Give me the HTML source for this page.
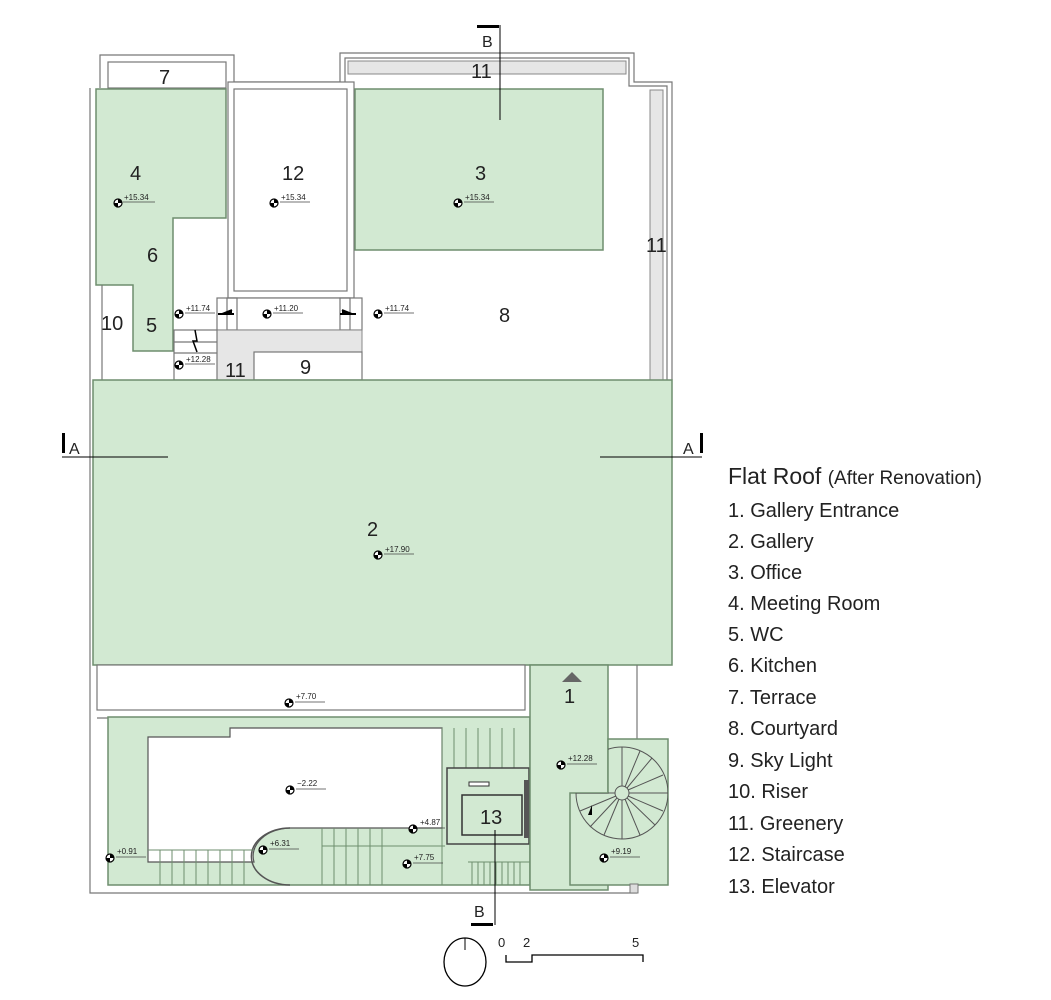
<!DOCTYPE html>
<html><head><meta charset="utf-8"><style>
html,body{margin:0;padding:0;background:#fff;}
svg{display:block;}
text{font-family:"Liberation Sans Narrow","Liberation Sans",sans-serif;fill:#222;}
.n{font-size:20px;}
.e{font-size:8px;}
.g{fill:#d2e9d2;stroke:#6e8e6e;stroke-width:1.5;}
.w{fill:#fff;stroke:#777;stroke-width:1.2;}
.l{fill:none;stroke:#777;stroke-width:1.2;}
.h{fill:#e6e6e6;stroke:#888;stroke-width:1;}
.s{stroke:#6e8e6e;stroke-width:1;}
</style></head><body>
<svg width="1051" height="1000" viewBox="0 0 1051 1000" xmlns="http://www.w3.org/2000/svg">
<defs>
<g id="m"><circle r="4" fill="#fff" stroke="#000" stroke-width="1.2"/><path d="M0,-4A4,4 0 0 1 4,0L0,0Z M0,4A4,4 0 0 1 -4,0L0,0Z" fill="#000"/></g>
<clipPath id="sp"><path d="M608,739 L668,739 L668,885 L574,885 L574,793 L608,793 Z"/></clipPath>
</defs>
<path class="l" d="M90,88 L90,893 L637,893"/>
<path class="l" d="M100,88 L100,55 L234,55 L234,82 L340,82 L340,53 L634,53 L634,82 L672,82 L672,380"/>
<path class="l" d="M345,82 L345,58 L629,58 L629,86 L667,86 L667,380"/>
<rect class="w" x="108" y="62" width="118" height="26"/>
<rect class="h" x="348" y="61" width="278" height="13"/>
<rect class="h" x="650" y="90" width="13" height="290"/>
<path class="g" d="M96,89 L226,89 L226,218 L173,218 L173,351 L133,351 L133,285 L96,285 Z"/>
<line class="l" x1="102" y1="285" x2="102" y2="380"/>
<rect class="w" x="228" y="82" width="126" height="216"/>
<rect class="w" x="234" y="89" width="113" height="202"/>
<rect class="g" x="355" y="89" width="248" height="161"/>
<rect class="w" x="217" y="298" width="145" height="32"/>
<rect class="l" x="227" y="298" width="10" height="32"/>
<rect class="l" x="340" y="298" width="10" height="32"/>
<rect class="h" x="217" y="330" width="145" height="50"/>
<rect class="w" x="254" y="352" width="108" height="28"/>
<rect class="l" x="174" y="330" width="43" height="50"/>
<line class="l" x1="174" y1="342" x2="217" y2="342"/>
<line class="l" x1="174" y1="353" x2="217" y2="353"/>
<path d="M195,330 L197,341 L193,341 L197,352" fill="none" stroke="#000" stroke-width="1.5"/>
<path d="M218,314 L234,314 M232,310 L222,314 L232,314" stroke="#000" stroke-width="2" fill="#000"/>
<path d="M340,314 L356,314 M342,310 L352,314 L342,314" stroke="#000" stroke-width="2" fill="#000"/>
<rect class="g" x="93" y="380" width="579" height="285"/>
<rect class="w" x="97" y="665" width="428" height="45"/>
<line class="l" x1="97" y1="718" x2="530" y2="718"/>
<path class="g" d="M108,717 L530,717 L530,885 L108,885 Z"/>
<path d="M148,737 L230,737 L230,728 L442,728 L442,828 L290,828 A38,28 0 0 0 254,862 L148,862 Z" fill="#fff" stroke="#555" stroke-width="1.2"/>
<path d="M290,828 A38,28 0 0 0 290,885" fill="none" stroke="#555" stroke-width="1.5"/>
<g class="s">
<line x1="148" y1="850" x2="254" y2="850"/>
<line x1="160" y1="850" x2="160" y2="885"/><line x1="172" y1="850" x2="172" y2="885"/><line x1="184" y1="850" x2="184" y2="885"/><line x1="196" y1="850" x2="196" y2="885"/><line x1="208" y1="850" x2="208" y2="885"/><line x1="220" y1="850" x2="220" y2="885"/><line x1="232" y1="850" x2="232" y2="885"/><line x1="244" y1="850" x2="244" y2="885"/>
<line x1="322" y1="828" x2="322" y2="885"/><line x1="322" y1="846" x2="445" y2="846"/>
<line x1="334" y1="828" x2="334" y2="885"/><line x1="346" y1="828" x2="346" y2="885"/><line x1="358" y1="828" x2="358" y2="885"/><line x1="370" y1="828" x2="370" y2="885"/><line x1="382" y1="828" x2="382" y2="885"/>
<line x1="442" y1="728" x2="442" y2="885"/>
<line x1="454" y1="728" x2="454" y2="768"/><line x1="466" y1="728" x2="466" y2="768"/><line x1="478" y1="728" x2="478" y2="768"/><line x1="490" y1="728" x2="490" y2="768"/><line x1="502" y1="728" x2="502" y2="768"/><line x1="514" y1="728" x2="514" y2="768"/>
<line x1="468" y1="862" x2="530" y2="862"/>
<line x1="472" y1="862" x2="472" y2="885"/><line x1="478" y1="862" x2="478" y2="885"/><line x1="484" y1="862" x2="484" y2="885"/><line x1="490" y1="862" x2="490" y2="885"/><line x1="496" y1="862" x2="496" y2="885"/><line x1="502" y1="862" x2="502" y2="885"/><line x1="508" y1="862" x2="508" y2="885"/><line x1="514" y1="862" x2="514" y2="885"/><line x1="520" y1="862" x2="520" y2="885"/>
</g>
<rect x="447" y="768" width="82" height="76" fill="#d2e9d2" stroke="#444" stroke-width="1.5"/>
<rect x="462" y="795" width="60" height="40" fill="#d2e9d2" stroke="#333" stroke-width="1.5"/>
<rect x="469" y="782" width="20" height="4" fill="#fff" stroke="#333"/>
<rect x="524" y="780" width="5" height="58" fill="#555"/>
<rect class="g" x="530" y="665" width="78" height="225"/>
<line class="l" x1="637" y1="665" x2="637" y2="739"/>
<path d="M562,682 L572,672 L582,682 Z" fill="#666"/>
<!-- spiral -->
<path class="g" d="M608,739 L668,739 L668,885 L570,885 L570,793 L608,793 Z"/>
<g fill="none" stroke="#555" stroke-width="1" clip-path="url(#sp)">
<circle cx="622" cy="793" r="46"/>
<circle cx="622" cy="793" r="7"/>
<path d="M622,786 L622,747 M627,788 L652,758 M629,793 L668,793 M627,798 L655,825 M622,800 L622,839 M617,798 L590,827 M615,793 L576,793 M625,787 L640,751 M628,790 L663,775 M628,796 L663,811 M625,799 L640,835 M619,799 L604,835 M616,796 L580,811"/>
</g>
<path d="M588,815 L592,805 L592,815 Z" fill="#000"/>
<rect x="630" y="884" width="8" height="9" fill="#ddd" stroke="#777"/>
<rect x="62" y="433" width="3" height="20" fill="#000"/>
<line x1="62" y1="457" x2="168" y2="457" stroke="#000"/>
<text x="69" y="454" style="font-size:16px">A</text>
<rect x="700" y="433" width="3" height="20" fill="#000"/>
<line x1="600" y1="457" x2="702" y2="457" stroke="#000"/>
<text x="683" y="454" style="font-size:16px">A</text>
<rect x="477" y="25" width="22" height="3" fill="#000"/>
<line x1="500" y1="25" x2="500" y2="120" stroke="#000"/>
<text x="482" y="47" style="font-size:16px">B</text>
<rect x="471" y="923" width="22" height="3" fill="#000"/>
<line x1="495" y1="830" x2="495" y2="925" stroke="#000"/>
<text x="474" y="917" style="font-size:16px">B</text>
<ellipse cx="465" cy="962" rx="21" ry="24" fill="none" stroke="#000" stroke-width="1.3"/>
<line x1="465" y1="938" x2="465" y2="950" stroke="#000"/>
<path d="M506,955 L506,962 L532,962 L532,955 L643,955 L643,962" fill="none" stroke="#000" stroke-width="1.3"/>
<text x="498" y="947" style="font-size:13px">0</text>
<text x="523" y="947" style="font-size:13px">2</text>
<text x="632" y="947" style="font-size:13px">5</text>
<g class="n">
<text x="159" y="84">7</text>
<text x="130" y="180">4</text>
<text x="147" y="262">6</text>
<text x="146" y="332">5</text>
<text x="101" y="330">10</text>
<text x="282" y="180">12</text>
<text x="475" y="180">3</text>
<text x="471" y="78">11</text>
<text x="646" y="252">11</text>
<text x="499" y="322">8</text>
<text x="225" y="377">11</text>
<text x="300" y="374">9</text>
<text x="367" y="536">2</text>
<text x="564" y="703">1</text>
<text x="480" y="824">13</text>
</g>
<g class="e">
<use href="#m" x="118" y="203"/><text x="124" y="200">+15.34</text><line x1="123" y1="202" x2="155" y2="202" stroke="#444" stroke-width=".7"/>
<use href="#m" x="274" y="203"/><text x="281" y="200">+15.34</text><line x1="280" y1="202" x2="310" y2="202" stroke="#444" stroke-width=".7"/>
<use href="#m" x="458" y="203"/><text x="465" y="200">+15.34</text><line x1="464" y1="202" x2="494" y2="202" stroke="#444" stroke-width=".7"/>
<use href="#m" x="179" y="314"/><text x="186" y="311">+11.74</text><line x1="185" y1="313" x2="215" y2="313" stroke="#444" stroke-width=".7"/>
<use href="#m" x="267" y="314"/><text x="274" y="311">+11.20</text><line x1="273" y1="313" x2="303" y2="313" stroke="#444" stroke-width=".7"/>
<use href="#m" x="378" y="314"/><text x="385" y="311">+11.74</text><line x1="384" y1="313" x2="414" y2="313" stroke="#444" stroke-width=".7"/>
<use href="#m" x="179" y="365"/><text x="186" y="362">+12.28</text><line x1="185" y1="364" x2="215" y2="364" stroke="#444" stroke-width=".7"/>
<use href="#m" x="378" y="555"/><text x="385" y="552">+17.90</text><line x1="384" y1="554" x2="414" y2="554" stroke="#444" stroke-width=".7"/>
<use href="#m" x="289" y="703"/><text x="296" y="699">+7.70</text><line x1="295" y1="702" x2="325" y2="702" stroke="#444" stroke-width=".7"/>
<use href="#m" x="290" y="790"/><text x="297" y="786">−2.22</text><line x1="296" y1="789" x2="326" y2="789" stroke="#444" stroke-width=".7"/>
<use href="#m" x="561" y="765"/><text x="568" y="761">+12.28</text><line x1="567" y1="764" x2="597" y2="764" stroke="#444" stroke-width=".7"/>
<use href="#m" x="413" y="829"/><text x="420" y="825">+4.87</text><line x1="419" y1="828" x2="445" y2="828" stroke="#444" stroke-width=".7"/>
<use href="#m" x="263" y="850"/><text x="270" y="846">+6.31</text><line x1="269" y1="849" x2="299" y2="849" stroke="#444" stroke-width=".7"/>
<use href="#m" x="110" y="858"/><text x="117" y="854">+0.91</text><line x1="116" y1="857" x2="146" y2="857" stroke="#444" stroke-width=".7"/>
<use href="#m" x="407" y="864"/><text x="414" y="860">+7.75</text><line x1="413" y1="863" x2="443" y2="863" stroke="#444" stroke-width=".7"/>
<use href="#m" x="604" y="858"/><text x="611" y="854">+9.19</text><line x1="610" y1="857" x2="640" y2="857" stroke="#444" stroke-width=".7"/>
</g>
<text x="728" y="484" style="font-size:23px">Flat Roof <tspan style="font-size:19px">(After Renovation)</tspan></text>
<g style="font-size:20px">
<text x="728" y="517">1. Gallery Entrance</text>
<text x="728" y="548">2. Gallery</text>
<text x="728" y="579">3. Office</text>
<text x="728" y="610">4. Meeting Room</text>
<text x="728" y="641">5. WC</text>
<text x="728" y="672">6. Kitchen</text>
<text x="728" y="704">7. Terrace</text>
<text x="728" y="735">8. Courtyard</text>
<text x="728" y="767">9. Sky Light</text>
<text x="728" y="798">10. Riser</text>
<text x="728" y="830">11. Greenery</text>
<text x="728" y="861">12. Staircase</text>
<text x="728" y="893">13. Elevator</text>
</g>
</svg>
</body></html>
